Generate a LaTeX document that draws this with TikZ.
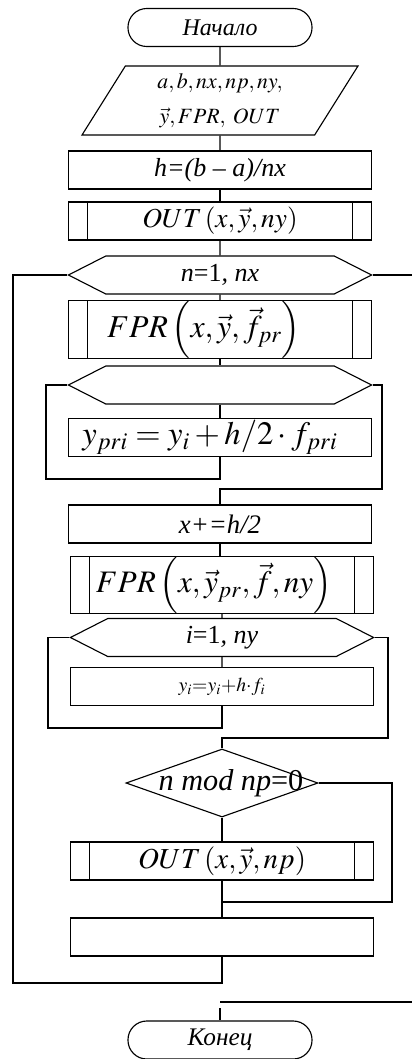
\documentclass[tikz,border=0pt]{standalone}
\usepackage{mathptmx}
\usepackage{fontspec}
\setmainfont{Liberation Serif}
\usetikzlibrary{shapes.geometric,shapes.symbols}

\begin{document}
\begin{tikzpicture}[x=0.025cm, y=-0.025cm, line width=0.8pt,
  blk/.style={draw, rectangle, minimum width=7.575cm, minimum height=0.95cm, inner sep=0pt},
  subr/.style={blk, path picture={
      \draw ([xshift=0.475cm]path picture bounding box.north west) -- ([xshift=0.475cm]path picture bounding box.south west);
      \draw ([xshift=-0.475cm]path picture bounding box.north east) -- ([xshift=-0.475cm]path picture bounding box.south east);}},
  term/.style={draw, rectangle, rounded corners=0.47cm, minimum width=4.6cm, minimum height=0.95cm, inner sep=0pt},
  io/.style={draw, trapezium, trapezium left angle=62, trapezium right angle=118, trapezium stretches=true, minimum width=6.9cm, minimum height=1.725cm, inner sep=0pt},
  cyc/.style={draw, signal, signal to=west and east, signal pointer angle=54, minimum width=7.575cm, minimum height=0.95cm, inner sep=0pt},
  cond/.style={draw, diamond, minimum width=4.8cm, minimum height=1.7cm, inner sep=0pt},
  fs/.style={font=\fontsize{#1}{#1}\selectfont}]
  \useasboundingbox (0,0) rectangle (412,1059);
  % Start and input
  \node[term, fs=17] (start) at (220,27.5) {\textit{Начало}};
  \node[io, fs=15.5, align=center] (inp) at (220,100.5) {$a,b,nx,np,ny,$\\[9pt]$\vec{y},FPR,\;OUT$};
  \node[blk, fs=18.5] (hcalc) at (220,170) {\textit{h=(b – a)/nx}};
  \node[subr, fs=19.5] (outa) at (220,221) {$OUT\left(x,\vec{y},ny\right)$};
  % Outer loop over n
  \node[cyc, fs=18.5] (loopn) at (220,275) {\textit{n}=1\textit{, nx}};
  \node[subr, fs=20] (fpra) at (220,329.5) {\hspace*{-0.8cm}\scalebox{1.13}{$FPR\left(x,\vec{y},\vec{f}_{pr}\right)$}};
  \node[cyc] (loopa) at (220,385) {};
  \node[blk, fs=20] (ypri) at (220,437.5) {\hspace*{-0.5cm}\scalebox{1.16}{$y_{pri}=y_i+h/2\cdot f_{pri}$}};
  \node[blk, fs=19] (xinc) at (220,524) {\textit{x+=h/2}};
  \node[subr, fs=19] (fprb) at (222,585) {\hspace*{-0.4cm}\scalebox{1.17}{$FPR\left(x,\vec{y}_{pr},\vec{f},ny\right)$}};
  % Inner loop over i
  \node[cyc, fs=18.5] (loopi) at (222,637.5) {\textit{i}=1\textit{, ny}};
  \node[blk, fs=14] (yi) at (222,686.5) {$y_i{=}y_i{+}h{\cdot}f_i$};
  % Output every np steps
  \node[cond, fs=21.5] (chk) at (222,783) {\makebox[0pt]{\hspace*{0.45cm}\textit{n mod np}=0}};
  \node[subr, fs=20] (outb) at (222,861) {\scalebox{1.03}{$OUT\left(x,\vec{y},np\right)$}};
  \node[blk] (blank) at (222,937) {};
  \node[term, fs=18] (stop) at (220,1040) {\textit{Конец}};
  \coordinate (exita) at (412,275);
  \coordinate (exitb) at (412,1002);
  \coordinate (gap) at (220,1008);
  % Straight connectors
  \draw (start) -- (inp);
  \draw (inp) -- (hcalc);
  \draw (hcalc) -- (outa);
  \draw (outa) -- (loopn);
  \draw (loopn) -- (fpra);
  \draw (fpra) -- (loopa);
  \draw (loopa) -- (ypri);
  \draw (xinc.south) -- (xinc.south |- fprb.north);
  \draw (fprb) -- (loopi);
  \draw (loopi) -- (yi);
  \draw (chk) -- (outb);
  \draw (outb) -- (blank);
  % Loop returns and exits
  \draw (ypri.south) |- (46,479) |- (loopa.west);
  \draw (loopa.east) -| (382,489) -| (xinc.north);
  \draw (yi.south) |- (48,728) |- (loopi.west);
  \draw (loopi.east) -| (388,738) -| (chk.north);
  \draw (chk.east) -| (392,902) -| (blank.north);
  \draw (blank.south) |- (13,983) |- (loopn.west);
  \draw (loopn.east) -- (exita);
  \draw (exitb) -- (exitb -| stop.north);
  \draw (gap) -- (stop.north);
\end{tikzpicture}
\end{document}
